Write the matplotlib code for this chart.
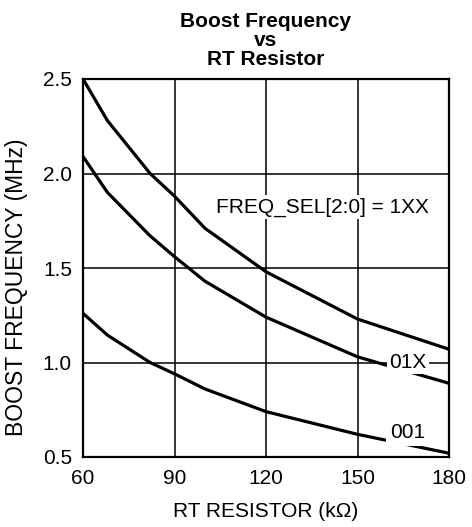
import matplotlib
matplotlib.use("Agg")
import matplotlib.pyplot as plt

plt.rcParams['font.family'] = ['Liberation Sans', 'DejaVu Sans']

# RT resistor (kOhm) and boost frequency (MHz) for each FREQ_SEL setting
rt_kohm = [60, 68, 82, 90, 100, 120, 150, 180]
freq_1xx = [2.50, 2.28, 2.00, 1.88, 1.71, 1.48, 1.23, 1.07]
freq_01x = [2.09, 1.90, 1.67, 1.56, 1.43, 1.24, 1.03, 0.89]
freq_001 = [1.26, 1.145, 1.00, 0.94, 0.86, 0.74, 0.62, 0.52]

x_ticks = [60, 90, 120, 150, 180]
y_ticks = [0.5, 1.0, 1.5, 2.0, 2.5]

fig = plt.figure(figsize=(4.72, 5.27), dpi=100)
ax = fig.add_axes([83/472, 70/527, 366/472, 378/527])

for f in (freq_1xx, freq_01x, freq_001):
    ax.plot(rt_kohm, f, color='k', lw=2.3, zorder=3, solid_joinstyle='miter')

ax.set_xlim(60, 180)
ax.set_ylim(0.5, 2.5)
ax.set_xticks(x_ticks)
ax.set_yticks(y_ticks)
ax.set_yticklabels(['%.1f' % v for v in y_ticks])
ax.grid(True, color='k', lw=1.1)
ax.set_axisbelow(True)
ax.tick_params(length=0, labelsize=15)
ax.tick_params(axis='x', pad=9)
ax.tick_params(axis='y', pad=8)
for s in ax.spines.values():
    s.set_linewidth(1.6)

box = dict(facecolor='white', edgecolor='none', pad=1.5)
ax.text(138.4, 1.823, 'FREQ_SEL[2:0] = 1XX', fontsize=15, ha='center', va='center',
        bbox=box, zorder=4)
ax.text(166.6, 1.0, '01X', fontsize=15, ha='center', va='center', bbox=box, zorder=4)
ax.text(166.6, 0.63, '001', fontsize=15, ha='center', va='center',
        bbox=dict(facecolor='white', edgecolor='none', pad=3), zorder=4)

ax.set_xlabel('RT RESISTOR (k\u03a9)', fontsize=15, labelpad=10)
ax.set_ylabel('BOOST FREQUENCY (MHz)', fontsize=16.5)
ax.yaxis.set_label_coords(-0.15, 0.45)
ax.set_title('Boost Frequency\nvs\nRT Resistor', fontsize=15, fontweight='bold',
             linespacing=1.0, pad=10)

fig.savefig('out.png', dpi=100)
